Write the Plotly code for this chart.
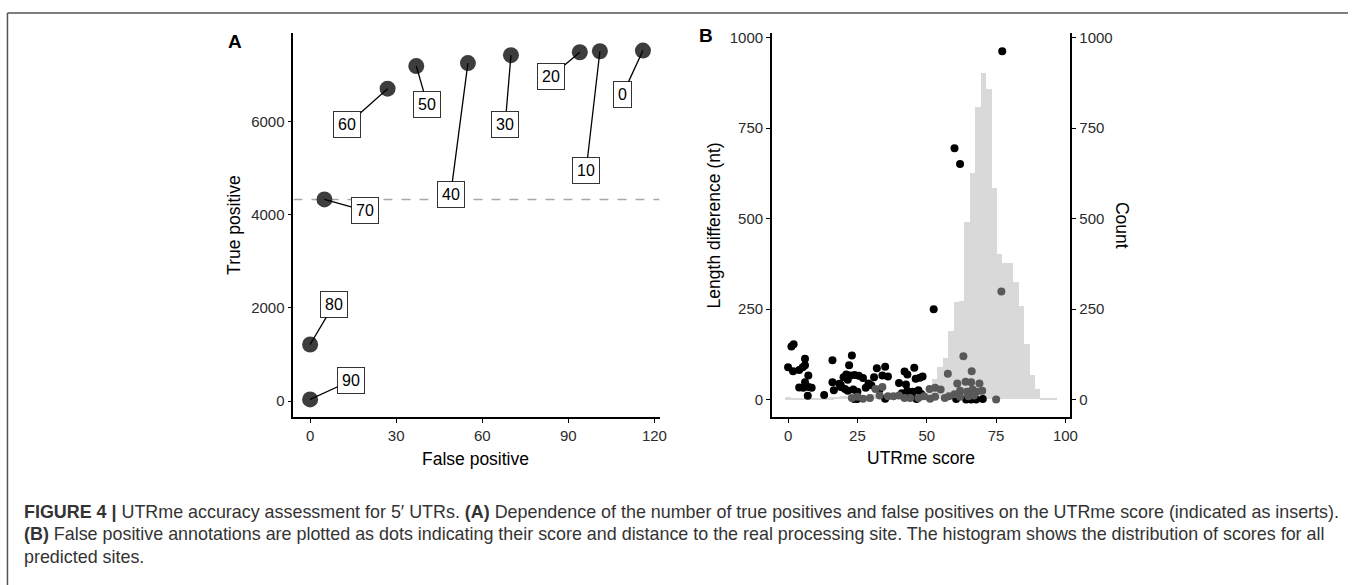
import plotly.graph_objects as go

W, H = 1355, 585

# ---------------- Panel A data ----------------
score_labels = ["90", "80", "70", "60", "50", "40", "30", "20", "10", "0"]
false_pos = [0, 0, 5, 27, 37, 55, 70, 94, 101, 116]
true_pos = [36, 1215, 4330, 6710, 7195, 7258, 7428, 7492, 7513, 7528]
label_fp = [14.3, 8.3, 19, 12.9, 40.9, 49, 68, 84, 96.2, 108.9]
label_tp = [442, 2077, 4092, 5934, 6367, 4440, 5949, 6973, 4958, 6581]
tp_reference = 4330

# ---------------- Panel B data ----------------
bin_centers = [0.0, 1.96, 3.91, 5.87, 7.83, 9.79, 11.74, 13.7, 15.66, 17.61,
               19.57, 21.53, 23.48, 25.44, 27.4, 29.36, 31.31, 33.27, 35.23, 37.18,
               39.14, 41.1, 43.05, 45.01, 46.97, 48.93, 50.88, 52.84, 54.8, 56.75,
               58.71, 60.67, 62.62, 64.58, 66.54, 68.5, 70.45, 72.41, 74.37, 76.32,
               78.28, 80.24, 82.19, 84.15, 86.11, 88.07, 90.02, 91.98, 93.94, 95.9]
bin_counts = [5, 4, 3, 3, 2, 2, 3, 4, 5, 6,
              8, 10, 12, 10, 9, 10, 14, 20, 15, 12,
              10, 12, 14, 12, 10, 15, 30, 56, 90, 113,
              189, 269, 270, 488, 625, 807, 901, 856, 582, 402,
              376, 376, 323, 257, 152, 66, 29, 4, 4, 2]

black_score = [1.2, 2.0, 0.0, 1.8, 4.0, 6.1, 6.1, 5.3, 7.3, 4.0, 5.5, 7.4, 8.5, 6.1, 7.1,
               13, 16, 16, 16.5, 18.5, 19, 20, 21, 22, 23, 21.5, 22.5, 24, 25.5, 27,
               20.5, 21.5, 23.5, 25, 28, 19,
               32, 35, 31, 34, 36, 29, 30, 33,
               40, 42, 42.5, 45.5, 46, 47.5, 48.5, 43, 41, 43, 45, 47, 48, 44,
               52.5, 60, 62, 77.2,
               23.8, 24.9, 35, 46.3, 60.6, 64.2, 66, 67.8, 70.2]
black_len = [147, 153, 90, 79, 82, 113, 95, 90, 67, 34, 33, 35, 33, 48, 11,
             13, 109, 48, 26, 44, 40, 62, 70, 95, 122, 55, 67, 68, 66, 60,
             30, 25, 28, 22, 33, 35,
             87, 91, 62, 67, 64, 45, 40, 28,
             46, 78, 42, 88, 58, 61, 64, 70, 18, 25, 22, 26, 16, 8,
             250, 694, 651, 962,
             2, 2, 3, 2, 2, 1, 1, 1, 2]

gray_score = [63.2, 57.6, 66.2, 61, 64, 66, 69, 62, 64.5, 66.5, 68, 70, 51, 53, 55,
              56.5, 51.2, 31.5, 33, 34, 29.5, 27, 36, 38, 40, 42, 44, 23, 25,
              76.9, 75, 62, 65, 67, 60, 58, 49, 47, 53]
gray_len = [120, 72, 79, 45, 50, 48, 45, 25, 22, 28, 22, 25, 30, 33, 28,
            5, 3, 30, 12, 35, 5, 3, 10, 10, 12, 5, 5, 5, 8,
            299, 1, 8, 10, 12, 15, 10, 10, 5, 8]

xticks_a = [0, 30, 60, 90, 120]
yticks_a = [0, 2000, 4000, 6000]
xticks_b = [0, 25, 50, 75, 100]
yticks_b = [0, 250, 500, 750, 1000]

caption_lines = [
    "<b>FIGURE 4 |</b> UTRme accuracy assessment for 5\u2032 UTRs. <b>(A)</b> Dependence of the number of true positives and false positives on the UTRme score (indicated as inserts).",
    "<b>(B)</b> False positive annotations are plotted as dots indicating their score and distance to the real processing site. The histogram shows the distribution of scores for all",
    "predicted sites.",
]

FONT = "Liberation Sans, Arial, Helvetica, sans-serif"


def px(x):
    return x / W


def py(y):
    return 1 - y / H


fig = go.Figure()

# Panel A points
fig.add_trace(go.Scatter(x=false_pos, y=true_pos, mode="markers",
                         marker=dict(size=16, color="#3d3d3d"),
                         xaxis="x", yaxis="y", showlegend=False, hoverinfo="skip"))

# Panel B histogram (count axis, drawn underneath)
fig.add_trace(go.Bar(x=bin_centers, y=bin_counts, width=1.96,
                     marker=dict(color="#d9d9d9", line=dict(width=0)),
                     xaxis="x2", yaxis="y2", showlegend=False, hoverinfo="skip"))
# Panel B scatter
fig.add_trace(go.Scatter(x=black_score, y=black_len, mode="markers",
                         marker=dict(size=8, color="#000000"),
                         xaxis="x2", yaxis="y3", showlegend=False, hoverinfo="skip"))
fig.add_trace(go.Scatter(x=gray_score, y=gray_len, mode="markers",
                         marker=dict(size=8, color="#595959"),
                         xaxis="x2", yaxis="y3", showlegend=False, hoverinfo="skip"))

axis_common = dict(showline=True, linecolor="black", linewidth=1.8, ticks="outside",
                   ticklen=4, tickwidth=1.3, tickcolor="black", showgrid=False,
                   zeroline=False, tickfont=dict(size=15, color="#2b2b2b", family=FONT))

fig.update_layout(
    width=W, height=H, margin=dict(l=0, r=0, t=0, b=0),
    paper_bgcolor="white", plot_bgcolor="rgba(0,0,0,0)",
    bargap=0, showlegend=False,
    xaxis=dict(domain=[px(295), px(663)], range=[-5.8, 121.8], anchor="y",
               tickvals=xticks_a, **axis_common),
    yaxis=dict(domain=[py(415.7), py(28)], range=[-345, 7910], anchor="x",
               tickvals=yticks_a, **axis_common),
    xaxis2=dict(domain=[px(776), px(1076)], range=[-5.8, 101.8], anchor="y2",
                tickvals=xticks_b, **axis_common),
    yaxis2=dict(domain=[py(415.7), py(28.7)], range=[-48, 1011], anchor="x2",
                side="right", tickvals=yticks_b, **axis_common),
    yaxis3=dict(range=[-48, 1011], anchor="x2", overlaying="y2", side="left",
                tickvals=yticks_b, **axis_common),
)

# dashed reference line in panel A
fig.add_shape(type="line", xref="x", yref="y", x0=-5.8, x1=121.8,
              y0=tp_reference, y1=tp_reference, layer="below",
              line=dict(color="#a8a8a8", width=1.4, dash="dash"))

# frame lines (top and left)
fig.add_shape(type="line", xref="paper", yref="paper", x0=px(7.5), x1=1,
              y0=py(8), y1=py(8), line=dict(color="#555555", width=1.5))
fig.add_shape(type="line", xref="paper", yref="paper", x0=px(7.5), x1=px(7.5),
              y0=py(8), y1=0, line=dict(color="#555555", width=1.5))

annotations = []
# repelled labels
for lab, x, y, lx, ly in zip(score_labels, false_pos, true_pos, label_fp, label_tp):
    annotations.append(dict(x=x, y=y, xref="x", yref="y", ax=lx, ay=ly,
                            axref="x", ayref="y", text=lab, showarrow=True,
                            arrowhead=0, arrowwidth=1.3, arrowcolor="black",
                            standoff=0, startstandoff=0,
                            bgcolor="white", bordercolor="#333333", borderwidth=1,
                            borderpad=4, font=dict(size=16, color="black", family=FONT)))


def text_ann(text, x, y, size, angle=0, xanchor="center", color="black"):
    return dict(text=text, x=px(x), y=py(y), xref="paper", yref="paper",
                showarrow=False, textangle=angle, xanchor=xanchor, yanchor="middle",
                font=dict(size=size, color=color, family=FONT))


annotations += [
    text_ann("True positive", 235, 222, 17.5, -90),
    text_ann("False positive", 478, 457.7, 17.5),
    text_ann("Length difference (nt)", 718, 222, 17.5, -90),
    text_ann("UTRme score", 926, 456.7, 17.5),
    text_ann("Count", 1128, 222, 17.5, 90),
    text_ann("<b>A</b>", 236.7, 36.7, 19),
    text_ann("<b>B</b>", 710, 31, 19),
]
for i, line in enumerate(caption_lines):
    annotations.append(text_ann(line, 22, 511 + 23 * i, 17.9, 0, "left", "#333333"))

fig.update_layout(annotations=annotations)

fig.write_html("out.html")
